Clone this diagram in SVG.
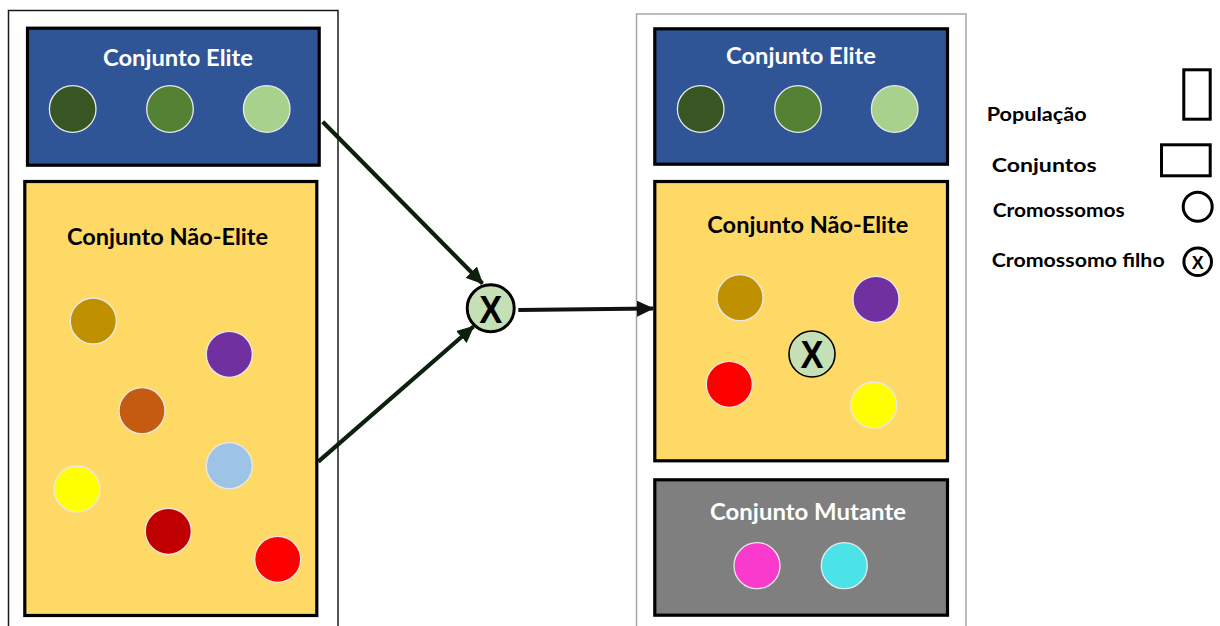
<svg xmlns="http://www.w3.org/2000/svg" width="1220" height="626" viewBox="0 0 1220 626">
  <style>
    .pop-a { fill: none; stroke: #1a1a1a; stroke-width: 1.5; }
    .pop-b { fill: none; stroke: #a6a6a6; stroke-width: 1.5; }
    .set { stroke: #000; stroke-width: 3.2; }
    .elite { fill: #2f5597; }
    .nonelite { fill: #ffd966; }
    .mutant { fill: #7f7f7f; }
    .chrom { stroke: #e8e8e8; stroke-width: 1.3; }
    .title { font-family: Lato, "Open Sans", sans-serif; font-weight: bold; font-size: 23px; text-anchor: middle; }
    .light { fill: #ffffff; }
    .dark { fill: #000000; }
    .legend { font-family: Lato, "Open Sans", sans-serif; font-weight: bold; font-size: 18.5px; fill: #000; }
    .child { fill: #c5e0b4; stroke: #000; }
    .xmark { font-family: "Liberation Sans", Arial, sans-serif; font-weight: bold; text-anchor: middle; fill: #000; }
    .key { fill: none; stroke: #000; stroke-width: 3; }
    .conn { fill: none; stroke-width: 4.2; }
  </style>
  <defs>
    <marker id="headDark" markerUnits="userSpaceOnUse" markerWidth="18" markerHeight="16" refX="16" refY="8" orient="auto">
      <path d="M0,0 L17,8 L0,16 Z" fill="#0d1f0d"/>
    </marker>
    <marker id="headBlack" markerUnits="userSpaceOnUse" markerWidth="18" markerHeight="16" refX="16" refY="8" orient="auto">
      <path d="M0,0 L17,8 L0,16 Z" fill="#111111"/>
    </marker>
  </defs>

  <rect width="1220" height="626" fill="#ffffff"/>

  <!-- current population -->
  <g id="population-current">
    <rect class="pop-a" x="8.5" y="10.5" width="329.5" height="640"/>
  </g>

  <g id="elite-current">
    <rect class="set elite" x="27.5" y="28.2" width="291.7" height="137"/>
    <text class="title light" x="178" y="66" textLength="150" lengthAdjust="spacingAndGlyphs">Conjunto Elite</text>
    <circle class="chrom" cx="72.7" cy="109" r="23.3" fill="#375623"/>
    <circle class="chrom" cx="170" cy="109" r="23.3" fill="#548235"/>
    <circle class="chrom" cx="266.7" cy="109" r="23.3" fill="#a9d18e"/>
  </g>

  <g id="nonelite-current">
    <rect class="set nonelite" x="24.8" y="181.5" width="292" height="434"/>
    <text class="title dark" x="167.5" y="245" textLength="201" lengthAdjust="spacingAndGlyphs">Conjunto Não-Elite</text>
    <circle class="chrom" cx="93.3" cy="321" r="23" fill="#bf9000"/>
    <circle class="chrom" cx="229.3" cy="354.3" r="23" fill="#7030a0"/>
    <circle class="chrom" cx="142" cy="410.7" r="23" fill="#c55a11"/>
    <circle class="chrom" cx="229.3" cy="465.7" r="23" fill="#9dc3e6"/>
    <circle class="chrom" cx="77" cy="489" r="23" fill="#ffff00"/>
    <circle class="chrom" cx="168.3" cy="531.3" r="23" fill="#c00000"/>
    <circle class="chrom" cx="277.7" cy="559.3" r="23" fill="#ff0000"/>
  </g>

  <!-- crossover result -->
  <g id="crossover">
    <circle class="child" cx="490.7" cy="308.3" r="23.5" stroke-width="3"/>
    <text class="xmark" x="490.7" y="322.5" font-size="38" textLength="23" lengthAdjust="spacingAndGlyphs">X</text>
  </g>

  <!-- next population -->
  <g id="population-next">
    <rect class="pop-b" x="636.5" y="14" width="329.5" height="640"/>
  </g>

  <g id="elite-next">
    <rect class="set elite" x="654.8" y="28.8" width="292.7" height="135.4"/>
    <text class="title light" x="801" y="64" textLength="150" lengthAdjust="spacingAndGlyphs">Conjunto Elite</text>
    <circle class="chrom" cx="700.7" cy="109" r="23.3" fill="#375623"/>
    <circle class="chrom" cx="798" cy="109" r="23.3" fill="#548235"/>
    <circle class="chrom" cx="894.7" cy="109" r="23.3" fill="#a9d18e"/>
  </g>

  <g id="nonelite-next">
    <rect class="set nonelite" x="654.8" y="181.5" width="292.7" height="279.3"/>
    <text class="title dark" x="807.8" y="233.3" textLength="201" lengthAdjust="spacingAndGlyphs">Conjunto Não-Elite</text>
    <circle class="chrom" cx="740" cy="297.7" r="23" fill="#bf9000"/>
    <circle class="chrom" cx="876" cy="299.3" r="23" fill="#7030a0"/>
    <circle class="chrom" cx="729.3" cy="384.3" r="23" fill="#ff0000"/>
    <circle class="chrom" cx="873.7" cy="405" r="23" fill="#ffff00"/>
    <circle class="child" cx="812" cy="354" r="23" stroke-width="1.6"/>
    <text class="xmark" x="812" y="368" font-size="38" textLength="23" lengthAdjust="spacingAndGlyphs">X</text>
  </g>

  <g id="mutant-next">
    <rect class="set mutant" x="654.8" y="479.8" width="292.7" height="135.4"/>
    <text class="title light" x="808" y="520" textLength="196" lengthAdjust="spacingAndGlyphs">Conjunto Mutante</text>
    <circle class="chrom" cx="757" cy="565.7" r="23" fill="#f93acc"/>
    <circle class="chrom" cx="844.3" cy="565.7" r="23" fill="#4be3e8"/>
  </g>

  <!-- connectors -->
  <g id="connectors">
    <line class="conn" stroke="#0d1f0d" x1="322.7" y1="121.7" x2="482.5" y2="283.5" marker-end="url(#headDark)"/>
    <line class="conn" stroke="#0d1f0d" x1="318.3" y1="461.7" x2="473.5" y2="326.5" marker-end="url(#headDark)"/>
    <line class="conn" stroke="#111111" x1="518.3" y1="310" x2="653" y2="308.5" marker-end="url(#headBlack)"/>
  </g>

  <!-- legend -->
  <g id="legend">
    <text class="legend" x="986.7" y="120.7" textLength="100" lengthAdjust="spacingAndGlyphs">População</text>
    <rect class="key" x="1183.8" y="69.8" width="26.4" height="49.4"/>
    <text class="legend" x="991.7" y="171.7" textLength="105" lengthAdjust="spacingAndGlyphs">Conjuntos</text>
    <rect class="key" x="1161.5" y="144.8" width="48.7" height="31"/>
    <text class="legend" x="992.7" y="216.7" textLength="132" lengthAdjust="spacingAndGlyphs">Cromossomos</text>
    <circle class="key" cx="1197.7" cy="206.7" r="14.5"/>
    <text class="legend" x="991.7" y="266.7" textLength="173" lengthAdjust="spacingAndGlyphs">Cromossomo filho</text>
    <circle class="key" cx="1197.7" cy="261.7" r="13.8" stroke-width="2.6"/>
    <text class="xmark" x="1197.7" y="268.5" font-size="19" textLength="12" lengthAdjust="spacingAndGlyphs">X</text>
  </g>
</svg>
